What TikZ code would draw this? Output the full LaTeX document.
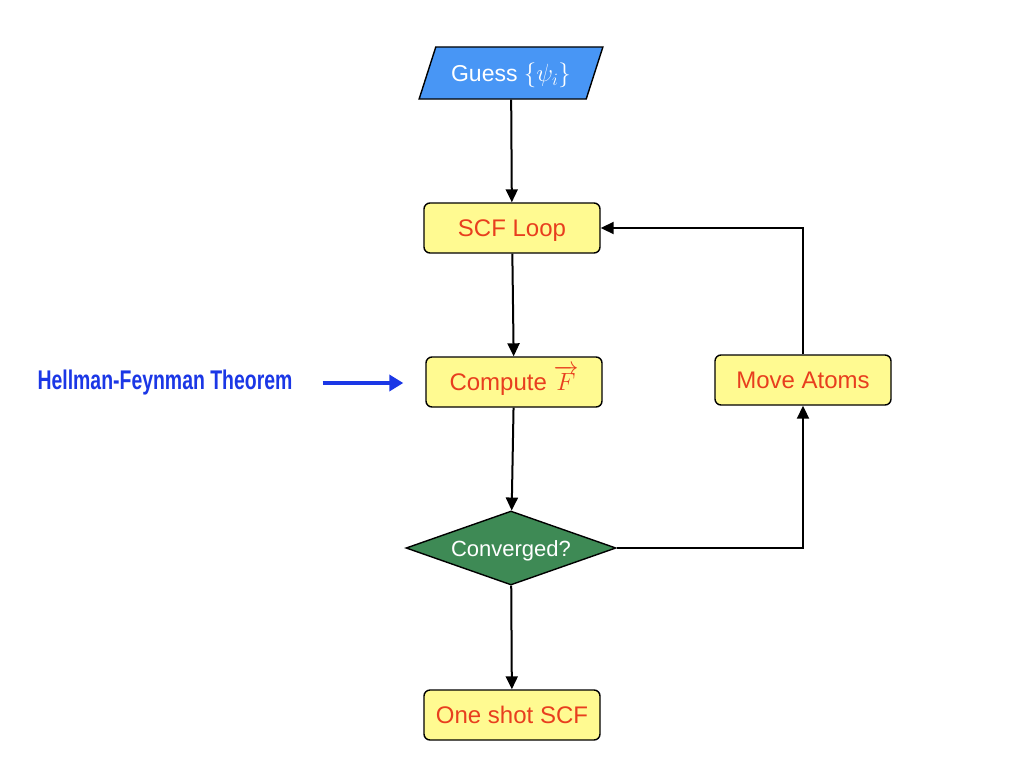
\documentclass[tikz,border=0pt]{standalone}
\usepackage{fontspec}
\usepackage{graphicx}
\setmainfont{Liberation Sans}
\usetikzlibrary{shapes.geometric,arrows.meta}
\definecolor{boxfill}{RGB}{255,250,145}
\definecolor{boxtext}{RGB}{232,62,30}
\definecolor{guessblue}{RGB}{72,150,245}
\definecolor{testgreen}{RGB}{62,138,85}
\definecolor{notered}{RGB}{27,55,230}
\tikzset{
  stepbox/.style={draw=black, line width=1.4pt, rounded corners=6pt, fill=boxfill,
    text=boxtext, font=\fontsize{24}{28}\selectfont, text height=17pt, text depth=0pt,
    minimum width=176pt, minimum height=50pt},
  inputbox/.style={trapezium, trapezium left angle=52, trapezium right angle=128,
    trapezium stretches=true, draw=black, line width=1.4pt, fill=guessblue, text=white,
    font=\fontsize{23}{27}\selectfont, text height=17pt, text depth=0pt,
    minimum width=184pt, minimum height=52pt, inner sep=0pt},
  testbox/.style={diamond, shape aspect=2.84, draw=black, line width=1.4pt, fill=testgreen, text=white,
    font=\fontsize{22}{26}\selectfont, text height=16pt, text depth=0pt,
    minimum width=210pt, minimum height=74pt, inner sep=0pt},
  flow/.style={draw, line width=2pt, -{Triangle[length=13pt,width=12pt]}},
  note arrow/.style={draw=notered, line width=3.5pt, -{Triangle[length=14pt,width=16pt]}},
}
\newcommand{\forcevec}{$\overrightarrow{F}$}

\begin{document}
\begin{tikzpicture}[x=1pt,y=-1pt]
    \useasboundingbox[fill=white] (0,0) rectangle (1024,768);

    % Nodes
    \node[inputbox] (guess) at (511,73) {Guess $\{\psi_i\}$};
    \node[stepbox] (scf)     at (512,228) {SCF Loop};
    \node[stepbox] (force)   at (514,382) {Compute \forcevec};
    \node[stepbox] (move)    at (803,380) {Move Atoms};
    \node[testbox] (conv)    at (511,548) {Converged?};
    \node[stepbox] (oneshot) at (512,715) {One shot SCF};

    % Note
    \node[text=notered, font=\bfseries\fontsize{27}{30}\selectfont, inner sep=0pt] (hf) at (165,383)
        {\scalebox{0.72}[1]{Hellman-Feynman Theorem}};

    % Arrows
    \draw[flow] (guess) -- (scf);
    \draw[flow] (scf) -- (force);
    \draw[flow] (force) -- (conv);
    \draw[flow] (conv) -- (oneshot);
    \draw[flow] (conv.east) -| (move.south);
    \draw[flow] (move.north) |- (scf.east);
    \draw[note arrow, shorten <=30pt, shorten >=22pt] (hf.east) -- (hf.east -| force.west);
\end{tikzpicture}
\end{document}
